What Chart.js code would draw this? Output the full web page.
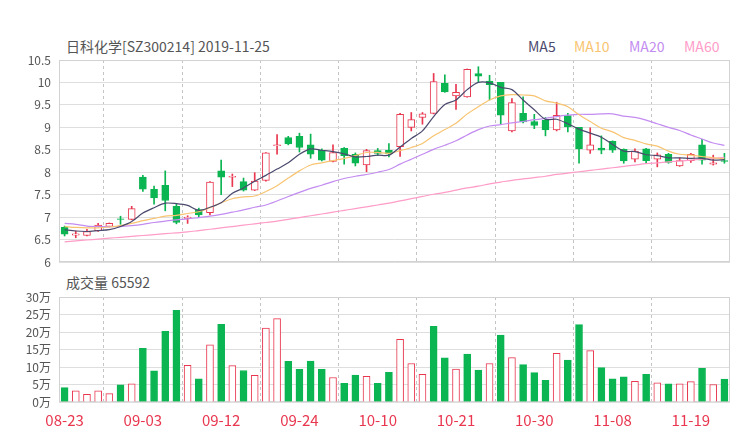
<!DOCTYPE html>
<html>
<head>
<meta charset="utf-8">
<script src="https://cdn.jsdelivr.net/npm/chart.js@4.4.1/dist/chart.umd.min.js"></script>
<style>
  body { margin:0; width:740px; height:440px; background:#fff; position:relative; overflow:hidden;
         font-family:'Noto Sans CJK SC','Noto Sans',sans-serif; color:#555; }
  .txt { position:absolute; font-size:14px; line-height:20px; white-space:nowrap; }
  #kWrap { position:absolute; left:0; top:0; width:740px; height:270px; }
  #vWrap { position:absolute; left:0; top:270px; width:740px; height:170px; }
</style>
</head>
<body>
<div class="txt" style="left:66px;top:36px;">日科化学[SZ300214] 2019-11-25</div>
<div class="txt" style="left:528px;top:36px;color:#4b4a6e;">MA5</div>
<div class="txt" style="left:574px;top:36px;color:#f8c471;">MA10</div>
<div class="txt" style="left:629px;top:36px;color:#c38cf0;">MA20</div>
<div class="txt" style="left:684px;top:36px;color:#ff9cc8;">MA60</div>
<div class="txt" style="left:66px;top:272px;">成交量 65592</div>
<div id="kWrap"><canvas id="kChart" width="740" height="270"></canvas></div>
<div id="vWrap"><canvas id="vChart" width="740" height="170"></canvas></div>
<script>
// daily K-line, 2019-08-23 .. 2019-11-22
const dates = ['08-23','08-26','08-27','08-28','08-29','08-30','09-02','09-03','09-04','09-05',
  '09-06','09-09','09-10','09-11','09-12','09-16','09-17','09-18','09-19','09-20',
  '09-23','09-24','09-25','09-26','09-27','09-30','10-08','10-09','10-10','10-11',
  '10-14','10-15','10-16','10-17','10-18','10-21','10-22','10-23','10-24','10-25',
  '10-28','10-29','10-30','10-31','11-01','11-04','11-05','11-06','11-07','11-08',
  '11-11','11-12','11-13','11-14','11-15','11-18','11-19','11-20','11-21','11-22'];
const shownTicks = ['08-23','09-03','09-12','09-24','10-10','10-21','10-30','11-08','11-19'];

const openP  = [6.77,6.60,6.59,6.70,6.79,6.96,6.95,7.89,7.62,7.71, 7.24,6.97,7.17,7.10,8.03,7.89,7.79,7.60,7.82,8.59,
                8.77,8.80,8.61,8.49,8.24,8.53,8.40,8.16,8.48,8.49, 8.57,9.00,9.22,9.31,9.98,9.70,9.68,10.20,10.03,10.00,
                8.92,9.31,9.13,9.16,8.94,9.26,9.00,8.49,8.54,8.69, 8.51,8.29,8.52,8.29,8.40,8.14,8.26,8.61,8.18,8.26];
const highP  = [6.80,6.69,6.73,6.86,6.87,7.02,7.24,7.93,7.69,8.03, 7.30,7.03,7.20,7.79,8.27,7.96,7.87,7.99,8.44,8.84,
                8.80,8.87,8.85,8.52,8.61,8.55,8.43,8.51,8.53,8.64, 9.31,9.33,9.33,10.20,10.17,9.96,10.30,10.35,10.16,10.00,
                9.64,9.68,9.29,9.22,9.56,9.31,9.00,8.99,8.81,8.70, 8.52,8.52,8.53,8.43,8.42,8.32,8.42,8.73,8.38,8.42];
const lowP   = [6.58,6.54,6.58,6.68,6.78,6.84,6.94,7.57,7.29,7.14, 6.85,6.86,6.99,7.05,7.50,7.68,7.58,7.59,7.80,8.40,
                8.61,8.45,8.31,8.25,8.23,8.18,8.14,8.01,8.37,8.34, 8.35,8.92,9.07,9.30,9.78,9.40,9.67,10.00,9.61,9.07,
                8.90,9.10,8.97,8.81,8.92,8.90,8.20,8.42,8.41,8.44, 8.20,8.23,8.19,8.12,8.20,8.13,8.22,8.18,8.16,8.20];
const closeP = [6.62,6.63,6.68,6.82,6.86,6.95,7.19,7.62,7.43,7.37, 6.88,7.00,7.05,7.78,7.89,7.91,7.60,7.80,8.43,8.61,
                8.63,8.55,8.40,8.27,8.44,8.37,8.20,8.48,8.42,8.41, 9.29,9.17,9.30,10.02,9.79,9.78,10.29,10.14,9.95,9.27,
                9.55,9.12,9.04,8.94,9.27,9.01,8.52,8.61,8.49,8.49, 8.25,8.47,8.26,8.39,8.22,8.26,8.40,8.27,8.21,8.24];

const ma5  = [6.72,6.69,6.68,6.70,6.72,6.79,6.90,7.09,7.21,7.31, 7.30,7.26,7.15,7.22,7.32,7.53,7.65,7.80,7.93,8.07,
              8.21,8.40,8.52,8.49,8.46,8.41,8.34,8.35,8.38,8.38, 8.56,8.75,8.92,9.24,9.51,9.61,9.84,10.00,9.99,9.89,
              9.84,9.61,9.39,9.18,9.18,9.08,8.96,8.87,8.78,8.62, 8.47,8.46,8.39,8.37,8.32,8.32,8.31,8.31,8.27,8.28];
const ma10 = [6.79,6.77,6.76,6.76,6.78,6.81,6.86,6.92,6.97,7.02, 7.04,7.08,7.12,7.21,7.32,7.41,7.45,7.47,7.57,7.70,
              7.87,8.03,8.16,8.21,8.26,8.31,8.37,8.44,8.44,8.42, 8.48,8.55,8.64,8.81,8.95,9.09,9.30,9.46,9.61,9.70,
              9.73,9.72,9.70,9.59,9.54,9.46,9.28,9.13,8.98,8.90, 8.77,8.71,8.63,8.58,8.47,8.40,8.38,8.35,8.32,8.30];
const ma20 = [6.86,6.84,6.80,6.79,6.79,6.79,6.81,6.84,6.88,6.91, 6.94,6.96,6.99,7.02,7.06,7.11,7.16,7.22,7.27,7.36,
              7.46,7.55,7.64,7.71,7.79,7.86,7.91,7.95,8.00,8.06, 8.18,8.29,8.40,8.51,8.60,8.70,8.83,8.95,9.03,9.06,
              9.10,9.13,9.17,9.20,9.24,9.27,9.29,9.29,9.30,9.30, 9.25,9.22,9.16,9.08,9.00,8.93,8.83,8.74,8.65,8.60];
const ma60 = [6.45,6.47,6.49,6.51,6.53,6.55,6.57,6.59,6.61,6.63, 6.65,6.67,6.70,6.73,6.76,6.79,6.82,6.85,6.88,6.91,
              6.95,6.99,7.03,7.07,7.11,7.15,7.19,7.23,7.27,7.31, 7.36,7.41,7.46,7.51,7.55,7.60,7.65,7.69,7.74,7.78,
              7.82,7.85,7.88,7.91,7.95,7.98,8.01,8.04,8.07,8.10, 8.13,8.16,8.19,8.21,8.23,8.25,8.27,8.29,8.31,8.33];

// volume in 万 shares, and whether the bar is drawn as a rising (hollow red) bar
const volume  = [4.1,3.2,2.2,3.2,2.4,4.9,5.2,15.3,8.9,20.2, 26.2,10.5,6.6,16.3,22.2,10.4,9.0,7.6,21.1,23.8,
                 11.6,9.3,11.7,9.3,7.0,5.3,7.7,7.3,5.3,8.5, 17.9,11.0,7.9,21.6,12.6,9.4,13.7,9.1,11.0,19.1,
                 12.7,10.7,8.4,6.2,13.9,12.0,22.1,14.7,9.8,6.6, 7.2,5.9,7.9,5.5,5.2,5.2,5.8,9.6,5.0,6.56];
const volRise = [0,1,1,1,1,0,1,0,0,0, 0,1,0,1,0,1,0,1,1,1,
                 0,0,0,0,1,0,0,1,0,0, 1,1,1,0,0,1,0,0,1,0,
                 1,0,0,0,1,0,0,1,0,0, 0,1,0,1,0,1,1,0,1,0];

const RED = '#e8374f', GREEN = '#0bb552';
const FONT = "'Noto Sans CJK SC','Noto Sans',sans-serif";
const rise = openP.map((o, i) => closeP[i] >= o);

const framePlugin = {
  id: 'frame',
  beforeDatasetsDraw(c) {
    const a = c.chartArea, ctx = c.ctx;
    ctx.save();
    ctx.strokeStyle = '#d2d2d2'; ctx.lineWidth = 1;
    ctx.strokeRect(Math.round(a.left) + 0.5, Math.round(a.top) + 0.5,
                   Math.round(a.right - a.left) - 1, Math.round(a.bottom - a.top) - 1);
    ctx.restore();
  }
};

const dashedGrid = { color: c => (c.index % 7 === 4 ? '#c4c4c4' : 'rgba(0,0,0,0)'), drawTicks: false, lineWidth: 1 };
const maLine = (d, col) => ({ type: 'line', data: d, borderColor: col, borderWidth: 1.2, pointRadius: 0, tension: 0.3, order: 0 });
const yFit = s => { s.width = 59; s.paddingTop = 0; s.paddingBottom = 0; };

new Chart(document.getElementById('kChart'), {
  type: 'bar',
  data: {
    labels: dates,
    datasets: [
      maLine(ma5, '#4b4a6e'), maLine(ma10, '#f8c471'), maLine(ma20, '#c38cf0'), maLine(ma60, '#ff9cc8'),
      { // candle bodies
        data: openP.map((o, i) => [o, closeP[i]]),
        backgroundColor: rise.map(r => r ? '#ffffff' : GREEN),
        borderColor: rise.map(r => r ? RED : GREEN),
        borderWidth: 1, borderSkipped: false, barThickness: 7, grouped: false, order: 1
      },
      { // wicks
        data: lowP.map((l, i) => [l, highP[i]]),
        backgroundColor: rise.map(r => r ? RED : GREEN),
        borderWidth: 0, barThickness: 1, grouped: false, order: 2
      }
    ]
  },
  options: {
    responsive: false, animation: false, events: [],
    layout: { padding: { top: 60, right: 10, bottom: 8, left: 0 } },
    plugins: { legend: { display: false }, tooltip: { enabled: false } },
    scales: {
      x: { ticks: { display: false, autoSkip: false }, grid: dashedGrid,
           border: { display: false, dash: [3, 3] }, afterFit: s => { s.height = 0; } },
      y: { min: 6, max: 10.5,
           ticks: { stepSize: 0.5, color: '#555', font: { family: FONT, size: 12 }, padding: 8,
                    callback: v => String(Math.round(v * 10) / 10) },
           grid: { color: '#dedede', drawTicks: false }, border: { display: false },
           afterFit: yFit }
    }
  },
  plugins: [framePlugin]
});

new Chart(document.getElementById('vChart'), {
  type: 'bar',
  data: {
    labels: dates,
    datasets: [{
      data: volume,
      backgroundColor: volRise.map(r => r ? '#ffffff' : GREEN),
      borderColor: volRise.map(r => r ? RED : GREEN),
      borderWidth: 1, barThickness: 7
    }]
  },
  options: {
    responsive: false, animation: false, events: [],
    layout: { padding: { top: 27, right: 10, bottom: 0, left: 0 } },
    plugins: { legend: { display: false }, tooltip: { enabled: false } },
    scales: {
      x: { ticks: { autoSkip: false, minRotation: 0, maxRotation: 0, color: RED, padding: 9,
                    font: { family: FONT, size: 15 },
                    callback: (v, i) => shownTicks.includes(dates[i]) ? dates[i] : '' },
           grid: dashedGrid, border: { display: false, dash: [3, 3] },
           afterFit: s => { s.height = 38; } },
      y: { min: 0, max: 30,
           ticks: { stepSize: 5, color: '#555', font: { family: FONT, size: 12 }, padding: 8,
                    callback: v => v + '万' },
           grid: { color: '#dedede', drawTicks: false }, border: { display: false },
           afterFit: yFit }
    }
  },
  plugins: [framePlugin]
});
</script>
</body>
</html>
